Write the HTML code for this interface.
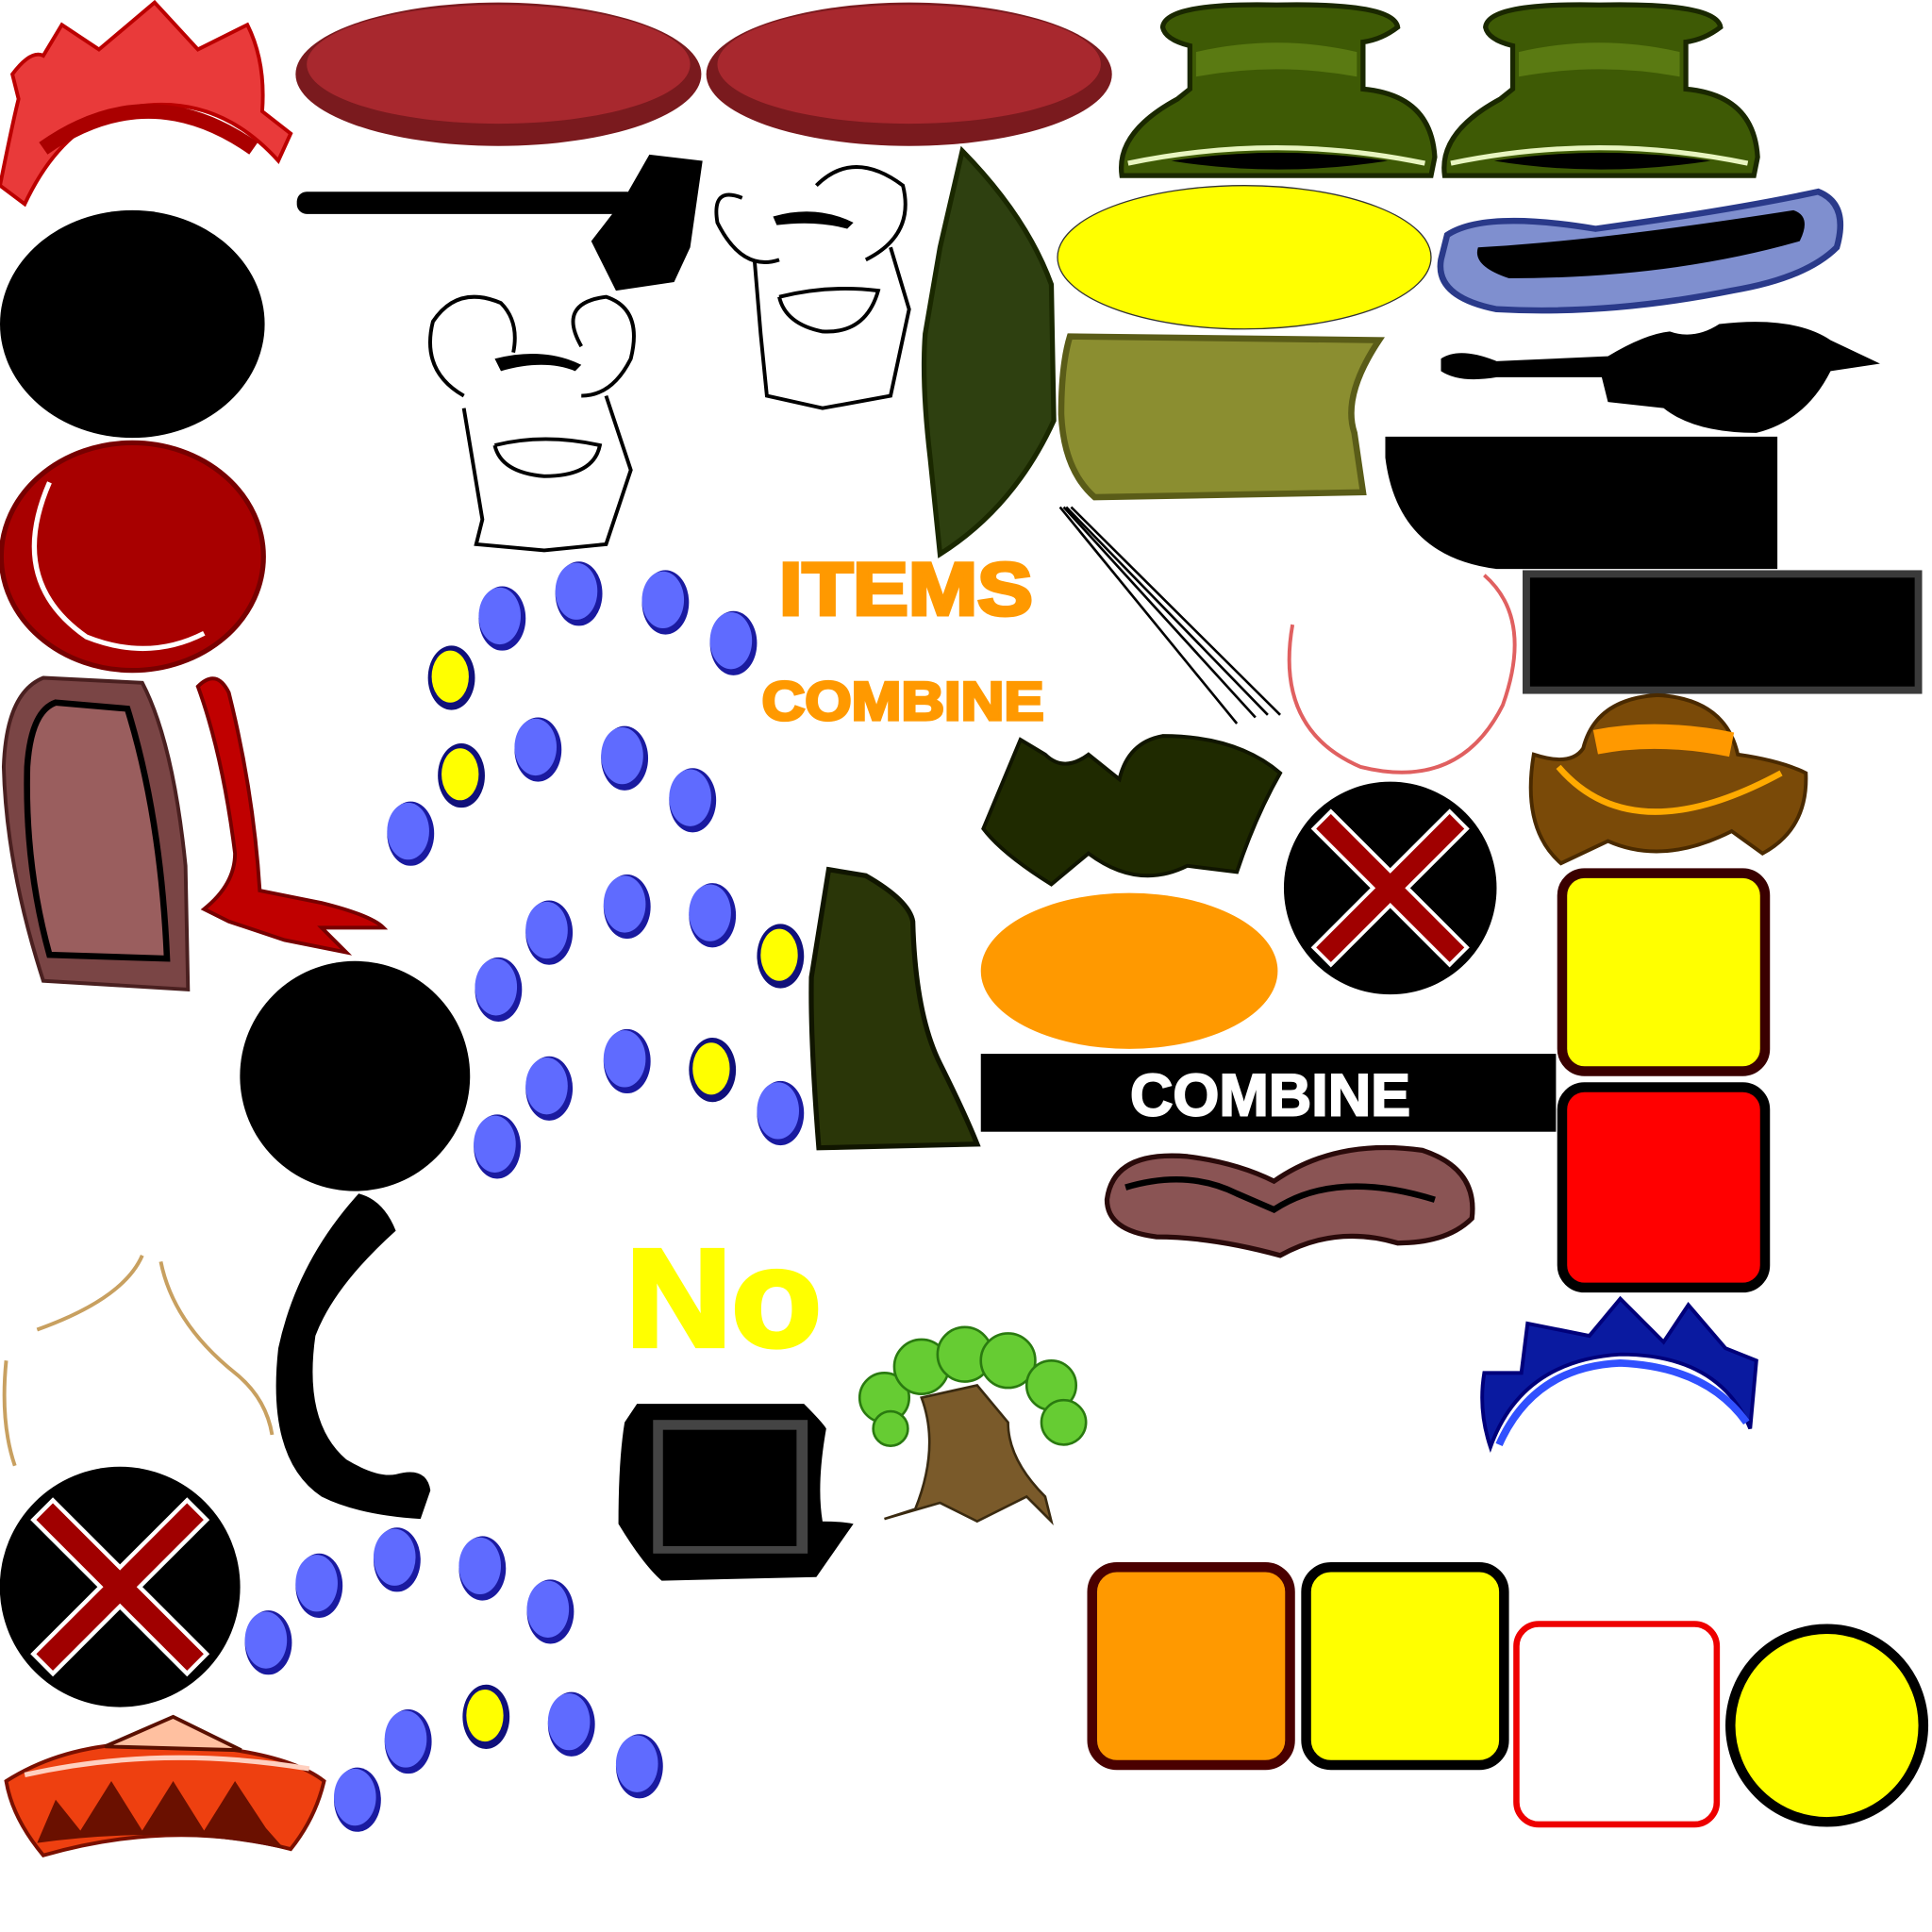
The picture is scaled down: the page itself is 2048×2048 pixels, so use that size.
<!DOCTYPE html>
<html><head><style>html,body{margin:0;padding:0;background:#fff}svg{display:block}</style></head><body>
<svg width="2048" height="2048" viewBox="0 0 1562 1562" xmlns="http://www.w3.org/2000/svg">
<defs>
<g id="bd"><ellipse rx="19" ry="26" fill="#1a1aa0"/><ellipse cx="-2" cy="-2" rx="17" ry="23" fill="#5f6bff"/></g>
<g id="yd"><ellipse rx="19" ry="26" fill="#10107a"/><ellipse cx="-1" cy="-1" rx="15" ry="21" fill="#ffff00"/></g>
<g id="xc"><circle r="86" fill="#000"/><path d="M-62,-48 L-48,-62 L0,-14 L48,-62 L62,-48 L14,0 L62,48 L48,62 L0,14 L-48,62 L-62,48 L-14,0Z" fill="#a00000" stroke="#fff" stroke-width="3"/></g>
<g id="hat"><path d="M38,20 Q40,0 130,2 Q225,0 228,20 Q215,30 200,32 L200,70 Q255,75 258,125 L255,140 L5,140 Q0,105 50,78 L60,70 L60,35 Q40,30 38,20Z" fill="#3e5a05" stroke="#1a2800" stroke-width="4"/><path d="M10,130 Q130,105 250,130" stroke="#e8f5c0" stroke-width="4" fill="none"/><path d="M45,128 Q130,115 220,128 Q130,142 45,128Z" fill="#000"/><path d="M65,40 Q130,25 195,40 L195,60 Q130,48 65,60Z" fill="#5a7a12"/></g>
</defs>

<path d="M0,150 Q10,100 15,80 L10,60 Q25,40 35,45 L50,20 L80,40 L125,2 L160,40 L200,20 Q215,50 212,90 L235,108 L225,130 Q180,80 120,85 Q55,90 20,165Z" fill="#e93a3a" stroke="#b00" stroke-width="3"/>
<path d="M35,120 Q120,60 205,120" stroke="#a00" stroke-width="12" fill="none"/>

<ellipse cx="403" cy="60" rx="164" ry="58" fill="#7a1a1e"/><ellipse cx="403" cy="52" rx="155" ry="48" fill="#a8282e"/>
<ellipse cx="735" cy="60" rx="164" ry="58" fill="#7a1a1e"/><ellipse cx="735" cy="52" rx="155" ry="48" fill="#a8282e"/>

<use href="#hat" x="902" y="2"/><use href="#hat" x="1163" y="2"/>

<ellipse cx="107" cy="262" rx="107" ry="92" fill="#000"/>
<ellipse cx="107" cy="450" rx="106" ry="92" fill="#a80000" stroke="#700" stroke-width="4"/>
<path d="M40,390 Q5,470 70,515 Q120,535 165,512" stroke="#fff" stroke-width="4" fill="none"/>

<rect x="240" y="155" width="275" height="18" rx="8" fill="#000"/>
<path d="M505,160 L525,125 L568,130 L558,200 L545,228 L498,235 L478,195 Z" fill="#000"/>

<g fill="none" stroke="#000" stroke-width="3">
<path d="M375,320 Q340,300 350,260 Q370,230 405,245 Q420,260 415,285 M470,280 Q450,245 490,240 Q520,250 510,290 Q495,320 470,320"/>
<path d="M375,330 L390,420 L385,440 L440,445 L490,440 L510,380 L490,320"/>
<path d="M400,360 Q440,350 485,360 Q480,385 440,385 Q405,382 400,360"/>
<path d="M600,160 Q575,150 580,180 Q600,220 630,210 M660,150 Q690,120 730,150 Q740,190 700,210"/>
<path d="M610,210 L615,270 L620,320 L665,330 L720,320 L735,250 L720,200"/>
<path d="M630,240 Q670,230 710,235 Q700,270 665,268 Q635,262 630,240"/>
</g>
<path d="M400,290 Q440,280 470,295 L465,300 Q440,290 405,300Z M625,175 Q660,165 690,180 L685,185 Q660,178 628,182Z" fill="#000"/>

<path d="M778,122 Q830,175 850,230 L852,340 Q820,410 760,448 L752,370 Q745,310 748,270 L760,200Z" fill="#2e4010" stroke="#1a2800" stroke-width="4"/>

<ellipse cx="1006" cy="208" rx="151" ry="58" fill="#ffff00" stroke="#333" stroke-width="1"/>

<path d="M1170,190 Q1200,170 1290,185 Q1400,170 1470,155 Q1495,165 1485,200 Q1460,225 1400,235 Q1300,255 1210,250 Q1160,240 1165,210Z" fill="#7f8fcf" stroke="#2a3a8a" stroke-width="5"/>
<path d="M1195,200 Q1290,195 1450,170 Q1465,175 1455,195 Q1350,225 1220,225 Q1190,215 1195,200Z" fill="#000"/>

<path d="M865,272 L1115,275 Q1085,320 1095,350 L1102,398 L885,402 Q860,380 858,335 Q858,295 865,272Z" fill="#8b8e30" stroke="#5a5c18" stroke-width="5"/>

<path d="M1165,290 Q1180,280 1210,292 L1300,288 Q1330,270 1350,268 Q1370,275 1390,262 Q1450,255 1480,275 L1520,294 L1480,300 Q1460,340 1420,350 Q1370,350 1345,330 L1300,325 L1295,305 L1210,305 Q1180,310 1165,300Z" fill="#000"/>

<path d="M1120,353 L1437,353 L1437,460 L1210,460 Q1130,450 1120,370Z" fill="#000"/>
<rect x="1234" y="464" width="317" height="94" fill="#000" stroke="#3a3a3a" stroke-width="6"/>

<text x="630" y="497" textLength="205" lengthAdjust="spacingAndGlyphs" font-family="Liberation Sans, sans-serif" font-weight="bold" font-size="60" fill="#ff9900" stroke="#ff9900" stroke-width="3">ITEMS</text>
<text x="616" y="582" textLength="228" lengthAdjust="spacingAndGlyphs" font-family="Liberation Sans, sans-serif" font-weight="bold" font-size="44" fill="#ff9900" stroke="#ff9900" stroke-width="2.5">COMBINE</text>

<g stroke="#000" stroke-width="2"><line x1="857" y1="410" x2="1000" y2="585"/><line x1="860" y1="410" x2="1015" y2="580"/><line x1="862" y1="410" x2="1025" y2="578"/><line x1="866" y1="410" x2="1035" y2="578"/></g>

<path d="M1045,505 Q1030,590 1100,620 Q1180,640 1215,570 Q1240,500 1200,465" stroke="#e06060" stroke-width="3" fill="none"/>

<path d="M825,598 L845,610 Q860,625 880,610 L905,630 Q912,600 940,595 Q1000,595 1035,625 Q1015,660 1000,705 L960,700 Q920,720 880,690 L850,715 Q810,690 795,670 Z" fill="#1f2a00" stroke="#101500" stroke-width="3"/>

<use href="#xc" x="1124" y="718"/>
<use href="#xc" x="97" y="1283" transform="translate(97,1283) scale(1.13) translate(-97,-1283)"/>

<path d="M1240,610 Q1270,620 1280,605 Q1290,565 1340,562 Q1395,565 1405,610 Q1440,615 1460,625 Q1462,670 1425,690 L1400,672 Q1345,700 1300,680 L1262,698 Q1230,670 1240,610Z" fill="#7a4a08" stroke="#4a2a00" stroke-width="3"/>
<path d="M1290,600 Q1340,590 1400,602" stroke="#ff9900" stroke-width="20" fill="none"/>
<path d="M1260,620 Q1320,690 1440,625" stroke="#ffaa00" stroke-width="5" fill="none"/>

<rect x="1263" y="706" width="164" height="160" rx="18" fill="#ffff00" stroke="#3a0000" stroke-width="8"/>
<rect x="1263" y="879" width="164" height="162" rx="18" fill="#ff0000" stroke="#000" stroke-width="8"/>

<ellipse cx="913" cy="785" rx="120" ry="63" fill="#ff9900"/>

<rect x="793" y="852" width="465" height="63" fill="#000"/>
<text x="1027" y="902" text-anchor="middle" font-family="Liberation Sans, sans-serif" font-weight="bold" font-size="48" fill="#fff" stroke="#fff" stroke-width="1.5">COMBINE</text>

<path d="M895,970 Q900,930 960,935 Q1000,940 1030,955 Q1080,920 1150,930 Q1195,945 1190,985 Q1170,1005 1130,1005 Q1080,990 1035,1015 Q980,1000 935,1000 Q895,995 895,970Z" fill="#8a5454" stroke="#2a0a0a" stroke-width="4"/>
<path d="M910,960 Q960,945 1000,965 L1030,978 Q1080,945 1160,970" stroke="#000" stroke-width="5" fill="none"/>

<path d="M35,548 L115,552 Q140,600 150,700 L152,800 L35,793 Q5,700 3,620 Q5,560 35,548Z" fill="#7a4545" stroke="#4a2020" stroke-width="3"/>
<path d="M45,568 L103,573 Q130,660 135,775 L40,772 Q20,700 22,620 Q25,575 45,568Z" fill="#9a5e5e" stroke="#000" stroke-width="5"/>

<path d="M160,555 Q175,540 185,560 Q205,640 210,720 L260,730 Q300,740 310,750 L260,750 L280,770 L230,760 L185,745 L165,735 Q190,715 190,690 Q180,610 160,555Z" fill="#c00000" stroke="#700" stroke-width="3"/>

<ellipse cx="287" cy="870" rx="93" ry="93" fill="#000"/>

<path d="M670,703 L700,708 Q735,728 738,745 Q740,820 760,860 Q780,900 790,925 L662,928 Q655,840 656,790 Z" fill="#2a3608" stroke="#101500" stroke-width="4"/>

<text x="506" y="1088" textLength="158" lengthAdjust="spacingAndGlyphs" font-family="Liberation Sans, sans-serif" font-weight="bold" font-size="112" fill="#ffff00" stroke="#ffff00" stroke-width="4">No</text>

<path d="M290,965 Q310,970 320,995 Q270,1040 255,1080 Q245,1150 280,1180 Q305,1195 320,1192 Q345,1185 348,1205 L340,1228 Q290,1225 260,1210 Q215,1180 225,1090 Q240,1020 290,965Z" fill="#000"/>

<g fill="none" stroke="#c8a060" stroke-width="3"><path d="M30,1075 Q100,1050 115,1015"/><path d="M130,1020 Q140,1070 190,1110 Q215,1130 220,1160"/><path d="M5,1100 Q0,1150 12,1185"/></g>

<path d="M515,1135 L650,1135 Q665,1150 668,1155 Q660,1200 665,1230 Q680,1230 690,1232 L660,1275 L535,1278 Q520,1265 500,1232 Q500,1180 505,1150 Z" fill="#000"/>
<rect x="528" y="1148" width="125" height="108" fill="#444"/>
<rect x="536" y="1156" width="108" height="94" fill="#000"/>

<path d="M745,1130 Q760,1170 740,1220 L715,1228 L760,1215 L790,1230 L830,1210 L850,1230 L845,1210 Q815,1180 815,1150 L790,1120 Z" fill="#7a5a2a" stroke="#3a2a10" stroke-width="2"/>
<g fill="#66cc33" stroke="#2a7a10" stroke-width="2"><circle cx="715" cy="1130" r="20"/><circle cx="745" cy="1105" r="22"/><circle cx="780" cy="1095" r="22"/><circle cx="815" cy="1100" r="22"/><circle cx="850" cy="1120" r="20"/><circle cx="860" cy="1150" r="18"/><circle cx="720" cy="1155" r="14"/></g>

<path d="M1205,1170 Q1230,1100 1310,1095 Q1390,1095 1415,1155 L1420,1100 L1395,1090 L1365,1055 L1345,1085 L1310,1050 L1285,1080 L1260,1075 L1235,1070 L1230,1110 L1200,1110 Q1195,1140 1205,1170Z" fill="#0a1aa0" stroke="#00007a" stroke-width="3"/>
<path d="M1212,1168 Q1240,1105 1310,1102 Q1380,1105 1412,1150" stroke="#3050ff" stroke-width="6" fill="none"/>

<rect x="883" y="1267" width="160" height="160" rx="20" fill="#ff9900" stroke="#4a0000" stroke-width="8"/>
<rect x="1056" y="1267" width="160" height="160" rx="20" fill="#ffff00" stroke="#000" stroke-width="8"/>
<rect x="1226" y="1313" width="162" height="162" rx="18" fill="#fff" stroke="#ee0000" stroke-width="5"/>
<circle cx="1477" cy="1395" r="78" fill="#ffff00" stroke="#000" stroke-width="8"/>

<path d="M5,1440 Q60,1405 140,1410 Q230,1415 262,1440 Q255,1470 235,1495 Q140,1470 35,1500 Q10,1470 5,1440Z" fill="#ee4010" stroke="#7a1000" stroke-width="3"/>
<path d="M85,1412 L140,1388 L195,1415Z" fill="#ffc0a0" stroke="#5a1000" stroke-width="3"/>
<path d="M30,1490 L45,1455 L65,1480 L90,1440 L115,1480 L140,1440 L165,1480 L190,1440 L215,1478 L230,1495 Q140,1475 30,1490Z" fill="#6a1000"/>
<path d="M20,1435 Q130,1410 250,1430" stroke="#ffd0c0" stroke-width="4" fill="none"/>

<use href="#yd" x="365" y="548"/><use href="#bd" x="406" y="500"/><use href="#bd" x="468" y="480"/><use href="#bd" x="538" y="487"/><use href="#bd" x="593" y="520"/>
<use href="#yd" x="373" y="627"/><use href="#bd" x="435" y="606"/><use href="#bd" x="505" y="613"/><use href="#bd" x="560" y="647"/><use href="#bd" x="332" y="674"/>
<use href="#bd" x="403" y="800"/><use href="#bd" x="444" y="754"/><use href="#bd" x="507" y="733"/><use href="#bd" x="576" y="740"/><use href="#yd" x="631" y="773"/>
<use href="#bd" x="402" y="927"/><use href="#bd" x="444" y="880"/><use href="#bd" x="507" y="858"/><use href="#yd" x="576" y="865"/><use href="#bd" x="631" y="900"/>
<use href="#bd" x="217" y="1328"/><use href="#bd" x="258" y="1282"/><use href="#bd" x="321" y="1261"/><use href="#bd" x="390" y="1268"/><use href="#bd" x="445" y="1303"/>
<use href="#bd" x="289" y="1455"/><use href="#bd" x="330" y="1408"/><use href="#yd" x="393" y="1388"/><use href="#bd" x="462" y="1394"/><use href="#bd" x="517" y="1428"/>
</svg>
</body></html>
